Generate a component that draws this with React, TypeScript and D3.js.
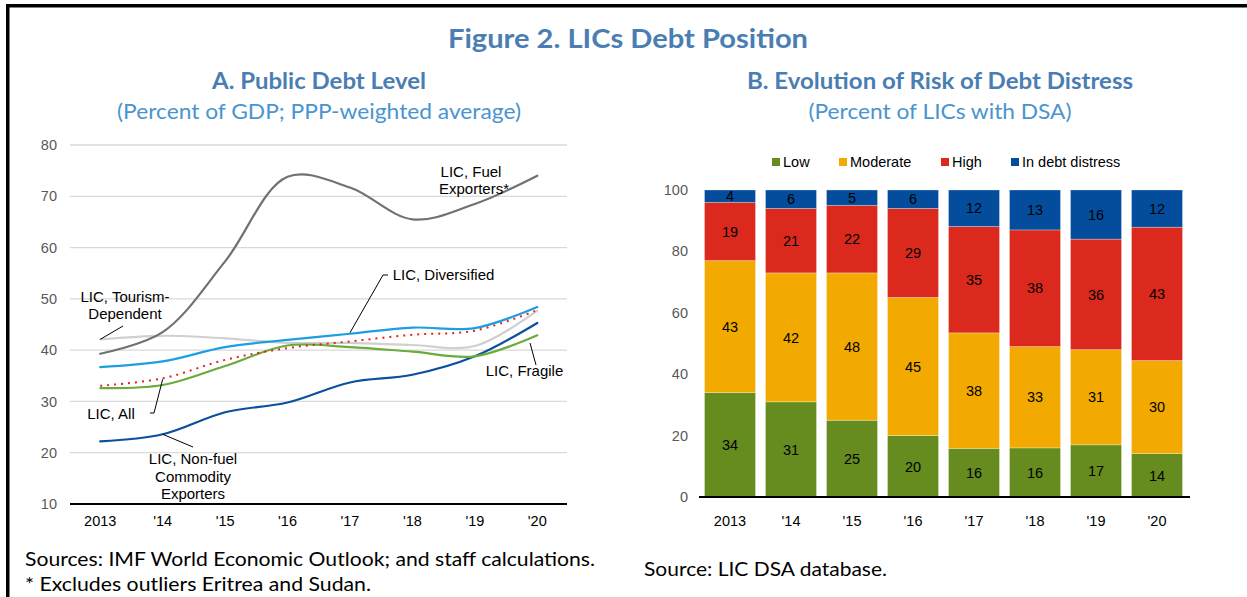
import React from "react";
import * as d3 from "d3";

const years = ["2013", "'14", "'15", "'16", "'17", "'18", "'19", "'20"];

// Panel A: public debt level (percent of GDP)
const fuelExporters = [39.3, 43.5, 57.3, 73.8, 71.7, 65.5, 68.5, 74.0];
const tourismDependent = [42.1, 42.8, 42.3, 41.4, 41.4, 41.0, 40.8, 47.7];
const diversified = [36.7, 37.8, 40.6, 42.0, 43.2, 44.4, 44.3, 48.4];
const licAll = [33.05, 34.5, 38.1, 40.4, 41.7, 43.0, 43.8, 47.8];
const fragile = [32.6, 33.2, 36.9, 40.9, 40.6, 39.7, 38.8, 42.9];
const nonFuelCommodity = [22.2, 23.6, 27.9, 29.8, 33.7, 35.2, 38.8, 45.3];
const leftTicks = [10, 20, 30, 40, 50, 60, 70, 80];

// Panel B: risk of debt distress (percent of LICs with DSA)
const riskKeys = ["Low", "Moderate", "High", "In debt distress"];
const low = [34, 31, 25, 20, 16, 16, 17, 14];
const moderate = [43, 42, 48, 45, 38, 33, 31, 30];
const high = [19, 21, 22, 29, 35, 38, 36, 43];
const distress = [4, 6, 5, 6, 12, 13, 16, 12];
const rightTicks = [0, 20, 40, 60, 80, 100];

const riskColors = ["#668c1f", "#f2aa00", "#dc291e", "#034d9c"];

const FONT = "'Liberation Sans', Arial, sans-serif";
const TFONT = "Lato, 'Open Sans', sans-serif";
const TITLE_BLUE = "#4a7eb3";
const SUB_BLUE = "#4a94cf";

export default function App() {
  // ---- Left chart scales
  const xL = d3.scaleBand<string>().domain(years).range([69, 568.5]);
  const cx = (i: number) => (xL(years[i]) as number) + xL.bandwidth() / 2;
  const yL = d3.scaleLinear().domain([10, 80]).range([504, 145]);
  const line = d3
    .line<number>()
    .x((_, i) => cx(i))
    .y((d) => yL(d))
    .curve(d3.curveCatmullRom.alpha(0.5));

  const series = [
    { data: tourismDependent, color: "#d0d0d0", w: 2.2, dash: undefined as string | undefined },
    { data: fuelExporters, color: "#717171", w: 2.2, dash: undefined },
    { data: nonFuelCommodity, color: "#0b4f9e", w: 2.2, dash: undefined },
    { data: fragile, color: "#6aab3c", w: 2.2, dash: undefined },
    { data: diversified, color: "#1c9fe0", w: 2.2, dash: undefined },
    { data: licAll, color: "#e8201d", w: 2, dash: "2,5" },
  ];

  // ---- Right chart
  const xR = d3
    .scaleBand<string>()
    .domain(years)
    .range([699.5, 1187.5])
    .paddingInner(0.164)
    .paddingOuter(0.082);
  const yR = d3.scaleLinear().domain([0, 100]).range([497, 190]);
  const table = years.map((yr, i) => ({
    year: yr,
    Low: low[i],
    Moderate: moderate[i],
    High: high[i],
    "In debt distress": distress[i],
  }));
  const stacked = d3
    .stack<any>()
    .keys(riskKeys)
    .offset(d3.stackOffsetExpand)(table);

  const legendX = [772, 839, 941, 1011];

  return (
    <svg
      width={1247}
      height={597}
      style={{ position: "absolute", left: 0, top: 0, background: "#fff" }}
    >
      <rect x={0} y={0} width={1247} height={597} fill="#fff" />
      {/* frame */}
      <rect x={6} y={4} width={1241} height={3.5} fill="#000" />
      <rect x={6} y={4} width={3.5} height={593} fill="#000" />

      {/* Titles */}
      <text x={628} y={48} textAnchor="middle" fontFamily={TFONT} fontWeight="bold"
        fontSize={27} fill={TITLE_BLUE} textLength={360} lengthAdjust="spacingAndGlyphs">
        Figure 2. LICs Debt Position
      </text>
      <text x={319} y={89} textAnchor="middle" fontFamily={TFONT} fontWeight="bold"
        fontSize={22} fill={TITLE_BLUE} textLength={214} lengthAdjust="spacingAndGlyphs">
        A. Public Debt Level
      </text>
      <text x={319} y={119} textAnchor="middle" fontFamily={TFONT}
        fontSize={21} fill={SUB_BLUE} textLength={404} lengthAdjust="spacingAndGlyphs">
        (Percent of GDP; PPP-weighted average)
      </text>
      <text x={940} y={89} textAnchor="middle" fontFamily={TFONT} fontWeight="bold"
        fontSize={22} fill={TITLE_BLUE} textLength={386} lengthAdjust="spacingAndGlyphs">
        B. Evolution of Risk of Debt Distress
      </text>
      <text x={940} y={119} textAnchor="middle" fontFamily={TFONT}
        fontSize={21} fill={SUB_BLUE} textLength={263} lengthAdjust="spacingAndGlyphs">
        (Percent of LICs with DSA)
      </text>

      {/* ---- Left chart ---- */}
      {leftTicks.map((t) => (
        <g key={"lt" + t}>
          {t > 10 && (
            <line x1={70} x2={567} y1={yL(t)} y2={yL(t)} stroke="#d9d9d9" strokeWidth={1.3} />
          )}
          <text x={57} y={yL(t)} dy="0.35em" textAnchor="end" fontFamily={FONT}
            fontSize={14.5} fill="#595959">
            {t}
          </text>
        </g>
      ))}
      <line x1={70} x2={567} y1={yL(10)} y2={yL(10)} stroke="#000" strokeWidth={1.8} />
      {years.map((yr, i) => (
        <text key={"lx" + yr} x={cx(i)} y={526} textAnchor="middle" fontFamily={FONT}
          fontSize={14.5} fill="#000">
          {yr}
        </text>
      ))}
      {series.map((s, k) => (
        <path key={"s" + k} d={line(s.data) || ""} fill="none" stroke={s.color}
          strokeWidth={s.w} strokeDasharray={s.dash} strokeLinecap={s.dash ? "butt" : "round"} />
      ))}

      {/* annotations */}
      <g fontFamily={FONT} fontSize={15} fill="#000" textAnchor="middle">
        <text x={471} y={177}>LIC, Fuel</text>
        <text x={474} y={194}>Exporters*</text>

        <text x={443.5} y={280}>LIC, Diversified</text>
        <line x1={383} y1={275} x2={388} y2={275} stroke="#000" strokeWidth={1} />
        <line x1={383} y1={275} x2={cx(4)} y2={yL(diversified[4]) - 1} stroke="#000" strokeWidth={1} />

        <text x={125} y={302}>LIC, Tourism-</text>
        <text x={125} y={319}>Dependent</text>
        <line x1={123} y1={326} x2={cx(0)} y2={yL(tourismDependent[0])} stroke="#000" strokeWidth={1} />

        <text x={111} y={419}>LIC, All</text>
        <line x1={150} y1={413} x2={154} y2={413} stroke="#000" strokeWidth={1} />
        <line x1={154} y1={413} x2={cx(1)} y2={yL(licAll[1]) + 1} stroke="#000" strokeWidth={1} />

        <text x={193} y={464}>LIC, Non-fuel</text>
        <text x={193} y={482}>Commodity</text>
        <text x={193} y={499}>Exporters</text>
        <line x1={193} y1={447} x2={cx(1)} y2={yL(nonFuelCommodity[1])} stroke="#000" strokeWidth={1} />

        <text x={524.5} y={376}>LIC, Fragile</text>
        <line x1={530} y1={343} x2={536} y2={365} stroke="#000" strokeWidth={1} />
      </g>

      {/* ---- Right chart ---- */}
      {rightTicks.map((t) => (
        <text key={"rt" + t} x={688} y={yR(t)} dy="0.35em" textAnchor="end" fontFamily={FONT}
          fontSize={14.5} fill="#595959">
          {t}
        </text>
      ))}
      {stacked.map((layer, k) => (
        <g key={"layer" + k}>
          {layer.map((seg, i) => {
            const x0 = xR(years[i]) as number;
            const yTop = yR(seg[1] * 100);
            const yBot = yR(seg[0] * 100);
            return (
              <g key={"seg" + k + i}>
                <rect x={x0} y={yTop} width={xR.bandwidth()} height={yBot - yTop}
                  fill={riskColors[k]} stroke="#ffffff" strokeOpacity={0.35} strokeWidth={0.8} />
                <text x={x0 + xR.bandwidth() / 2} y={(yTop + yBot) / 2} dy="0.36em"
                  textAnchor="middle" fontFamily={FONT} fontSize={14.5} fill="#000">
                  {(table[i] as any)[riskKeys[k]]}
                </text>
              </g>
            );
          })}
        </g>
      ))}
      <line x1={699} x2={1190} y1={yR(0)} y2={yR(0)} stroke="#000" strokeWidth={1.8} />
      {years.map((yr) => (
        <text key={"rx" + yr} x={(xR(yr) as number) + xR.bandwidth() / 2} y={526}
          textAnchor="middle" fontFamily={FONT} fontSize={14.5} fill="#000">
          {yr}
        </text>
      ))}
      {/* legend */}
      {riskKeys.map((k, i) => (
        <g key={"lg" + k}>
          <rect x={legendX[i]} y={158} width={8} height={8} fill={riskColors[i]} />
          <text x={legendX[i] + 11} y={162} dy="0.36em" fontFamily={FONT} fontSize={14.5} fill="#000">
            {k}
          </text>
        </g>
      ))}

      {/* footnotes */}
      <text x={25} y={566} fontFamily={TFONT} fontSize={19} fill="#000" textLength={570}
        lengthAdjust="spacingAndGlyphs">
        Sources: IMF World Economic Outlook; and staff calculations.
      </text>
      <text x={25} y={591} fontFamily={TFONT} fontSize={19} fill="#000" textLength={346}
        lengthAdjust="spacingAndGlyphs">
        * Excludes outliers  Eritrea and Sudan.
      </text>
      <text x={644} y={576} fontFamily={TFONT} fontSize={19} fill="#000" textLength={243}
        lengthAdjust="spacingAndGlyphs">
        Source: LIC DSA database.
      </text>
    </svg>
  );
}
